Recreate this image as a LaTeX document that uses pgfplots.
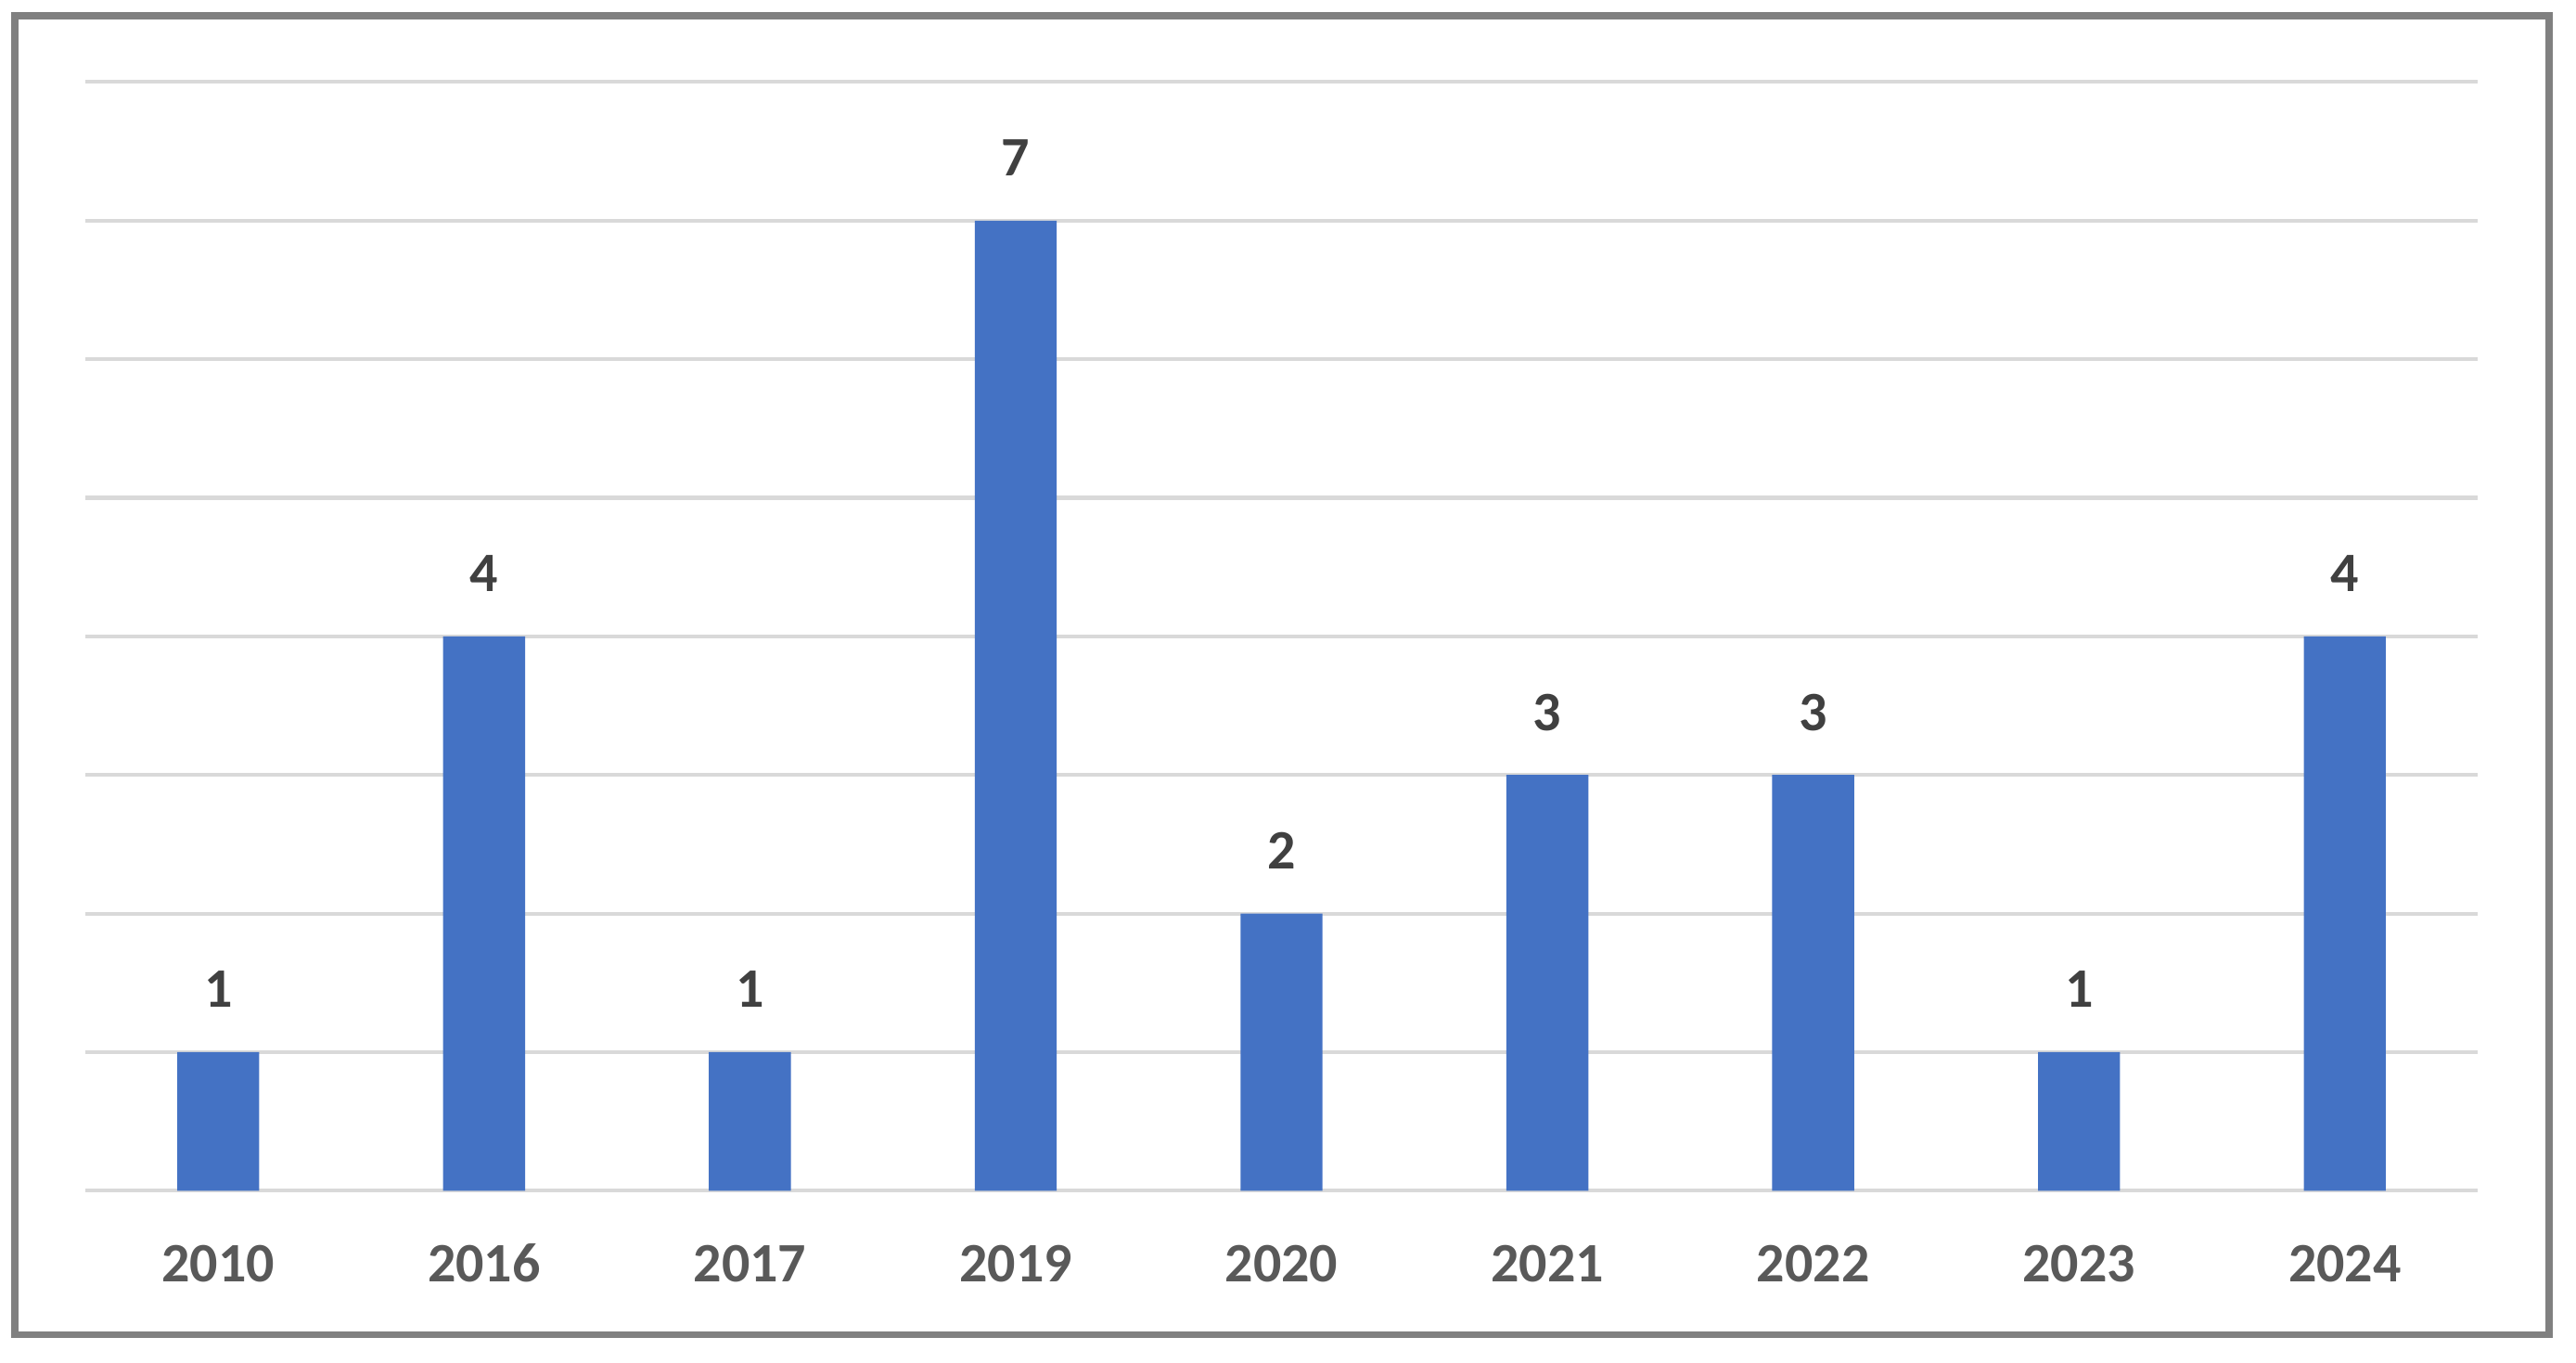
\documentclass[border=0pt]{standalone}
\usepackage{pgfplots}
\pgfplotsset{compat=1.18}
\usepackage{fontspec}
\setmainfont{Carlito}

\definecolor{barblue}{HTML}{4472C4}
\definecolor{gridgray}{HTML}{D9D9D9}
\definecolor{ticktext}{HTML}{595959}
\definecolor{datatext}{HTML}{404040}
\definecolor{framegray}{HTML}{808080}

\begin{document}
\begin{tikzpicture}
    % page size = reference proportions (px * 0.1935pt)
    \useasboundingbox (-17.8pt,-35.8pt) rectangle (519.5pt,248.3pt);
    \draw[framegray, line width=1.5pt] (-14.7pt,-30.0pt) rectangle (513.9pt,245.0pt);

    \begin{axis}[
        at={(0,0)}, anchor=south west,
        scale only axis,
        width=499pt, height=231.2pt,
        ybar, bar width=17.1pt,
        xmin=-0.5, xmax=8.5,
        ymin=0, ymax=8,
        ytick={0,1,...,8},
        yticklabels={},
        xtick=data,
        xticklabels={2010,2016,2017,2019,2020,2021,2022,2023,2024},
        ymajorgrids,
        grid style={gridgray, line width=0.8pt},
        axis line style={draw=none},
        major tick style={draw=none},
        tick label style={font=\fontsize{11.6}{14}\selectfont\bfseries, text=ticktext},
        xticklabel style={anchor=base, text height=8pt, text depth=0pt, yshift=-14.7pt},
        nodes near coords={\pgfmathprintnumber[assume math mode=true]{\pgfplotspointmeta}},
        nodes near coords style={font=\fontsize{11.6}{14}\selectfont\bfseries, text=datatext, anchor=base, yshift=9.3pt},
        clip=false,
    ]
        \addplot[fill=barblue, draw=none] coordinates {
            (0,1) (1,4) (2,1) (3,7) (4,2) (5,3) (6,3) (7,1) (8,4)
        };
    \end{axis}
\end{tikzpicture}
\end{document}
